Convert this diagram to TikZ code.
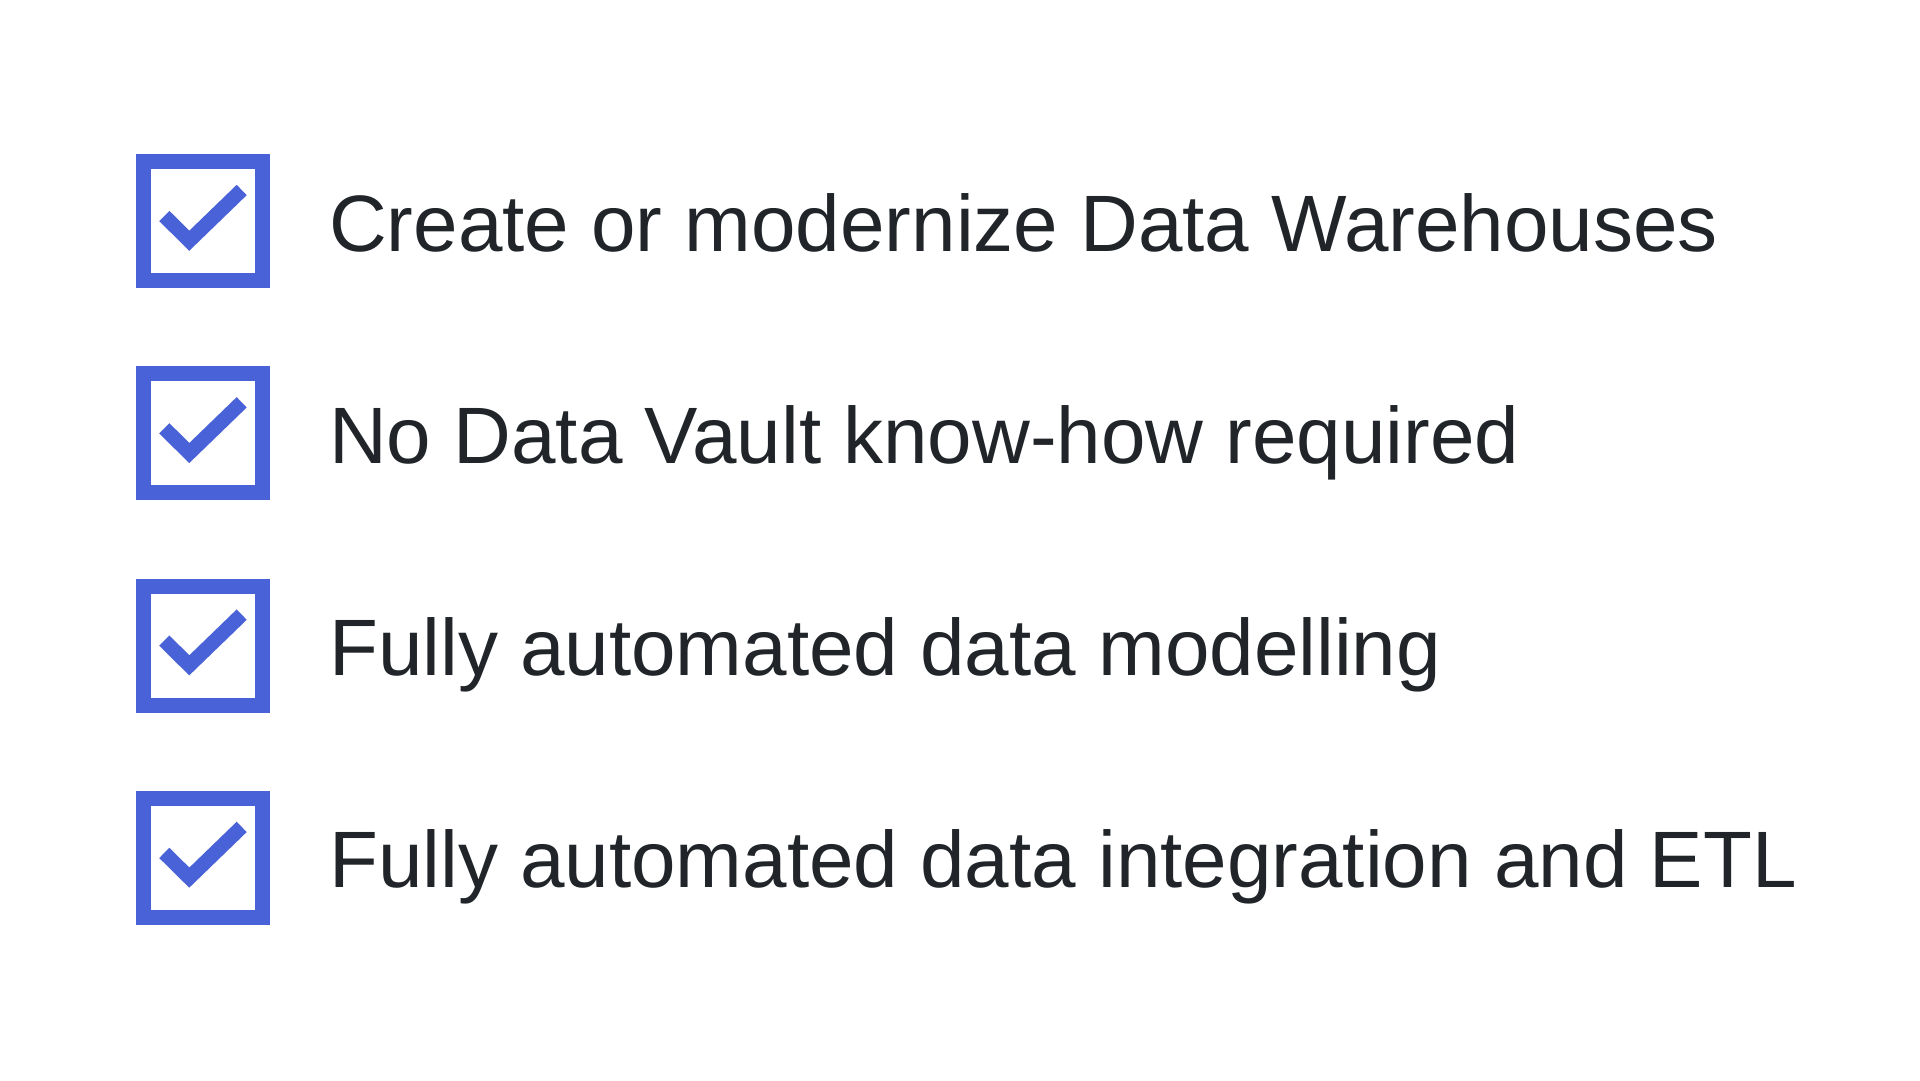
\documentclass[tikz,border=0pt]{standalone}
\usepackage{fontspec}
\setmainfont{Liberation Sans}
\definecolor{checkblue}{HTML}{4A62D8}
\definecolor{textdark}{HTML}{212529}
\begin{document}
\begin{tikzpicture}[x=1pt,y=-1pt,
  chkbox/.style={draw=checkblue,line width=15pt,minimum size=119pt,inner sep=0pt,fill=white},
  chkmark/.style={draw=checkblue,line width=14.4pt,line join=miter,line cap=butt},
  itemtext/.style={anchor=base west,inner sep=0pt,text=textdark,font=\fontsize{80}{96}\selectfont}]
\fill[white] (0,0) rectangle (1920,1080);
\useasboundingbox (0,0) rectangle (1920,1080);
\foreach \i/\t in {0/{Create or modernize Data Warehouses},1/{No Data Vault know-how required},2/{Fully automated data modelling},3/{Fully automated data integration and ETL}}{
  \pgfmathsetmacro{\top}{154+212.3*\i}
  \node[chkbox] (box\i) at (203,\top+67) {};
  \draw[chkmark] ([shift={(-38.7,-5)}]box\i.center) -- ([shift={(-13.7,19.7)}]box\i.center) -- ([shift={(38.7,-31)}]box\i.center);
  \node[itemtext] (txt\i) at (329,\top+97) {\t};
}
\end{tikzpicture}
\end{document}
